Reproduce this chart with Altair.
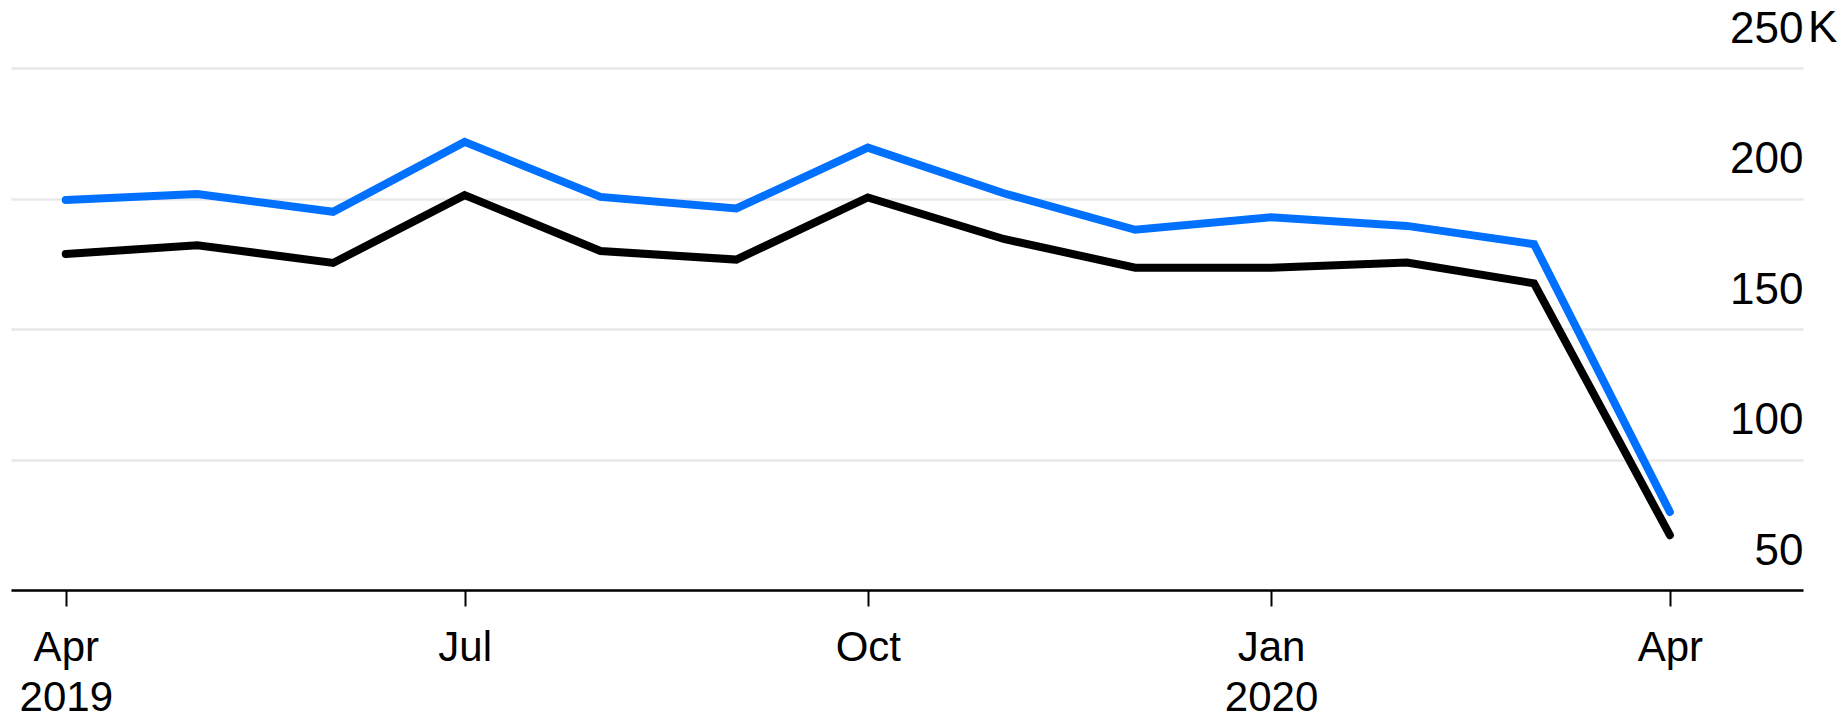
import altair as alt
import pandas as pd

months = ["2019-04-01", "2019-05-01", "2019-06-01", "2019-07-01", "2019-08-01",
          "2019-09-01", "2019-10-01", "2019-11-01", "2019-12-01", "2020-01-01",
          "2020-02-01", "2020-03-01", "2020-04-01"]
blue_vals = [199.4, 201.7, 194.9, 221.7, 200.6, 196.2, 219.5, 202.0, 188.0, 192.8,
             189.5, 182.5, 79.9]
black_vals = [178.7, 182.1, 175.3, 201.3, 179.9, 176.6, 200.4, 184.5, 173.5, 173.5,
              175.5, 167.5, 71.0]
series_names = ["blue", "black"]
series_colors = ["#0070ff", "#000000"]
y_ticks = [50000, 100000, 150000, 200000, 250000]

rows = []
for name, vals in zip(series_names, [blue_vals, black_vals]):
    for m, v in zip(months, vals):
        rows.append({"date": m, "value": v * 1000, "series": name})
df = pd.DataFrame(rows)

FONT = "Liberation Sans"

x_scale = alt.Scale(
    type="utc",
    domain=[alt.DateTime(year=2019, month=3, date=19, hours=12, utc=True),
            alt.DateTime(year=2020, month=5, date=1, hours=9, utc=True)],
)
y_scale = alt.Scale(domain=[50000, 250000], nice=False, zero=False)

x_axis = alt.Axis(
    title=None,
    values=[alt.DateTime(year=2019, month=4, date=1, utc=True),
            alt.DateTime(year=2019, month=7, date=1, utc=True),
            alt.DateTime(year=2019, month=10, date=1, utc=True),
            alt.DateTime(year=2020, month=1, date=1, utc=True),
            alt.DateTime(year=2020, month=4, date=1, utc=True)],
    labelExpr="(utcmonth(datum.value) == 0 || (utcmonth(datum.value) == 3 && utcyear(datum.value) == 2019)) ? [utcFormat(datum.value, '%b'), utcFormat(datum.value, '%Y')] : utcFormat(datum.value, '%b')",
    grid=False,
    domain=True, domainColor="#000000", domainWidth=2.7,
    ticks=True, tickColor="#000000", tickWidth=2, tickSize=16,
    labelFont=FONT, labelFontSize=42, labelColor="#000000",
    labelLineHeight=50, labelPadding=21, labelBaseline="top",
)

y_axis = alt.Axis(
    title=None, orient="right", values=y_ticks,
    labelExpr="format(datum.value / 1000, 'd')",
    grid=True, gridColor="#e8e8e8", gridWidth=2.5,
    domain=False, ticks=False, tickSize=0,
    labelAlign="right", labelBaseline="alphabetic", labelOffset=-26,
    labelPadding=0, labelFont=FONT, labelFontSize=44, labelColor="#000000",
)

lines = alt.Chart(df).mark_line(
    strokeWidth=8, strokeCap="round", strokeJoin="miter"
).encode(
    x=alt.X("date:T", scale=x_scale, axis=x_axis),
    y=alt.Y("value:Q", scale=y_scale, axis=y_axis),
    color=alt.Color("series:N", scale=alt.Scale(domain=series_names, range=series_colors), legend=None),
)

unit = alt.Chart(pd.DataFrame({"t": ["K"]})).mark_text(
    align="left", baseline="alphabetic", dx=5, dy=-26,
    font=FONT, fontSize=44, color="#000000",
).encode(
    x=alt.datum(alt.DateTime(year=2020, month=5, date=1, hours=9, utc=True)),
    y=alt.datum(250000),
    text="t:N",
)

chart = alt.layer(lines, unit).properties(
    width=1792, height=522,
    autosize=alt.AutoSizeParams(type="none"),
    padding={"left": 11, "top": 68, "right": 39, "bottom": 133},
).configure(background="#ffffff").configure_view(stroke=None, strokeWidth=0)

chart.save("out.html", embed_options={"renderer": "svg", "actions": False})
